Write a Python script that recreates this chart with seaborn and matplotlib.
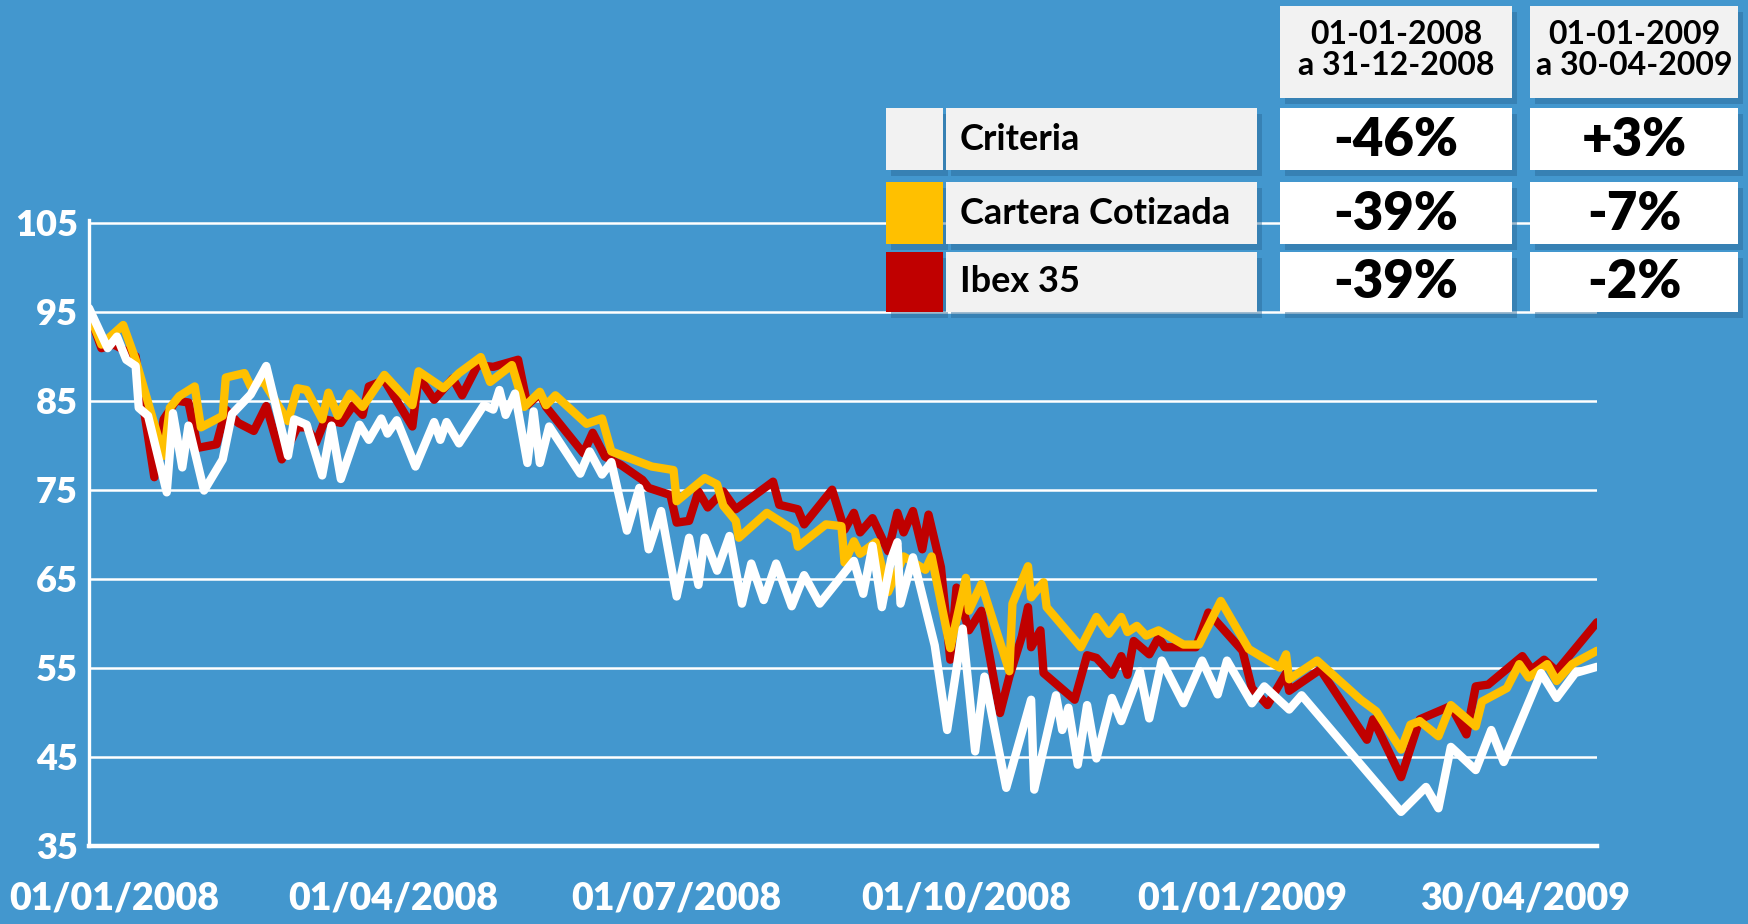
import matplotlib
matplotlib.use("Agg")
import matplotlib.pyplot as plt
from matplotlib.patches import Rectangle
import pandas as pd
import seaborn as sns

# ---------------- data ----------------
series_names = ["Criteria", "Cartera Cotizada", "Ibex 35"]
series_colors = {"Criteria": "#FFFFFF", "Cartera Cotizada": "#FFC000", "Ibex 35": "#C00000"}

# days since 01/01/2008
criteria_days = [0, 6, 9, 12, 15, 16, 19, 25, 27, 30, 32, 37, 43, 46, 52, 57, 64, 66, 70, 75, 78, 81,
                 87, 90, 94, 96, 99, 105, 111, 113, 115, 119, 127, 130, 132, 134, 137, 141, 143, 145,
                 148, 158, 161, 165, 168, 173, 177, 180, 184, 189, 193, 196, 198, 202, 206, 210, 213,
                 217, 221, 226, 230, 235, 246, 249, 252, 255, 258, 260, 261, 265, 272, 276, 281, 285,
                 288, 295, 303, 304, 311, 313, 315, 318, 321, 324, 329, 332, 338, 341, 345, 352, 358,
                 363, 366, 374, 378, 386, 390, 422, 430, 434, 438, 446, 451, 455, 467, 472, 478, 485]
criteria_values = [95.4, 90.9, 92.2, 89.6, 88.9, 84.2, 83.3, 74.7, 83.6, 77.5, 82.2, 74.9, 78.4, 83.5,
                   85.7, 88.9, 78.8, 82.9, 82.3, 76.6, 82.2, 76.2, 82.3, 80.6, 83.0, 81.3, 82.8, 77.6,
                   82.6, 80.6, 82.6, 80.2, 84.5, 84.0, 86.2, 83.4, 85.8, 78.0, 83.8, 78.0, 82.1, 76.8,
                   79.3, 76.7, 78.1, 70.4, 75.2, 68.3, 72.6, 63.0, 69.6, 64.3, 69.6, 65.9, 69.8, 62.2,
                   66.7, 62.6, 66.7, 61.9, 65.4, 62.2, 67.0, 63.3, 68.7, 61.8, 67.2, 69.1, 62.2, 67.4,
                   57.5, 48.0, 59.4, 45.6, 54.0, 41.5, 51.4, 41.3, 51.9, 48.0, 50.5, 44.1, 50.8, 44.8,
                   51.6, 49.0, 54.6, 49.3, 55.8, 51.0, 55.8, 52.0, 55.8, 51.0, 52.9, 50.3, 51.9, 38.8,
                   41.6, 39.2, 46.1, 43.5, 48.0, 44.4, 54.4, 51.6, 54.4, 55.1]

cartera_days = [0, 4, 11, 15, 24, 26, 29, 34, 36, 43, 44, 50, 52, 56, 64, 67, 70, 75, 77, 80, 84, 88,
                95, 104, 106, 114, 119, 126, 129, 136, 140, 145, 147, 150, 160, 165, 168, 181, 188,
                189, 198, 202, 204, 208, 209, 218, 227, 228, 237, 242, 243, 246, 248, 253, 257, 262,
                269, 271, 277, 282, 283, 287, 296, 297, 302, 303, 307, 308, 319, 324, 328, 332, 334,
                337, 340, 344, 352, 357, 364, 373, 383, 385, 386, 395, 409, 414, 422, 425, 428, 434,
                438, 446, 448, 456, 460, 463, 469, 472, 477, 485]
cartera_values = [94.8, 91.3, 93.5, 89.6, 78.8, 84.2, 85.5, 86.6, 82.0, 83.3, 87.6, 88.1, 86.6, 87.2,
                  82.7, 86.4, 86.2, 82.9, 85.9, 83.3, 85.8, 84.3, 87.9, 84.5, 88.3, 86.4, 88.1, 89.9,
                  87.1, 89.0, 84.3, 86.0, 84.5, 85.6, 82.4, 83.0, 79.3, 77.6, 77.2, 73.7, 76.3, 75.6,
                  73.2, 71.5, 69.6, 72.4, 70.4, 68.6, 71.1, 70.9, 66.8, 69.2, 67.8, 69.1, 63.5, 67.5,
                  66.0, 67.5, 57.2, 65.1, 61.4, 64.4, 54.6, 62.2, 66.4, 62.9, 64.6, 61.8, 57.3, 60.7,
                  58.8, 60.7, 59.0, 59.7, 58.6, 59.2, 57.6, 57.6, 62.5, 57.1, 55.0, 56.5, 53.7, 55.8,
                  51.4, 50.1, 45.8, 48.6, 49.0, 47.3, 50.8, 48.4, 51.2, 52.7, 55.4, 53.9, 55.4, 53.5,
                  55.4, 56.9]

ibex_days = [0, 4, 8, 15, 21, 24, 28, 32, 35, 41, 44, 48, 53, 57, 62, 67, 70, 73, 76, 81, 85, 88, 90,
             95, 104, 106, 111, 117, 120, 125, 130, 138, 141, 145, 147, 159, 162, 166, 171, 178, 180,
             187, 189, 193, 196, 199, 204, 208, 220, 222, 228, 230, 239, 243, 246, 248, 252, 257,
             260, 262, 265, 268, 270, 274, 277, 279, 283, 287, 293, 296, 300, 302, 303, 306, 307,
             317, 321, 324, 329, 332, 334, 336, 341, 344, 346, 356, 360, 371, 374, 379, 385, 386,
             396, 411, 413, 422, 428, 438, 443, 446, 450, 461, 464, 468, 472, 485]
ibex_values = [94.8, 90.9, 91.3, 90.0, 76.4, 82.9, 85.0, 84.8, 79.7, 80.1, 84.0, 82.5, 81.6, 84.4,
               78.4, 82.0, 82.0, 80.3, 82.9, 82.5, 84.5, 83.4, 86.6, 87.3, 82.1, 87.7, 85.1, 87.5,
               85.6, 89.0, 88.8, 89.6, 84.5, 85.8, 84.3, 79.1, 81.4, 78.7, 77.8, 76.1, 75.2, 74.4,
               71.3, 71.5, 74.8, 73.0, 74.8, 72.8, 75.9, 73.3, 72.8, 71.1, 75.0, 70.5, 72.4, 70.2,
               71.8, 68.1, 72.4, 70.2, 72.6, 68.3, 72.2, 66.3, 55.9, 64.0, 59.2, 61.4, 49.9, 54.0,
               58.5, 61.8, 57.3, 59.2, 54.4, 51.4, 56.4, 56.1, 54.2, 56.3, 54.2, 58.0, 56.5, 58.4,
               57.3, 57.3, 61.2, 56.9, 52.7, 50.8, 54.4, 52.4, 54.8, 46.9, 49.2, 42.7, 49.2, 50.7,
               47.5, 52.9, 53.1, 56.3, 54.8, 55.9, 54.6, 60.1]

x_tick_days = [8, 98, 189, 282, 371, 462]
x_tick_labels = ["01/01/2008", "01/04/2008", "01/07/2008", "01/10/2008", "01/01/2009", "30/04/2009"]
y_ticks = [35, 45, 55, 65, 75, 85, 95, 105]

period_labels = ["01-01-2008\na 31-12-2008", "01-01-2009\na 30-04-2009"]
change_2008 = ["-46%", "-39%", "-39%"]
change_2009 = ["+3%", "-7%", "-2%"]
swatch_colors = ["#F2F2F2", "#FFC000", "#C00000"]

# ---------------- style ----------------
BG = "#4397CE"
sns.set_style("white")
plt.rcParams["font.family"] = ["Lato", "DejaVu Sans"]
plt.rcParams["font.weight"] = "bold"

W, H = 1748, 924
fig = plt.figure(figsize=(W / 100, H / 100), dpi=100, facecolor=BG)
ax = fig.add_axes([89 / W, 1 - 845.7 / H, (1597 - 89) / W, (845.7 - 220) / H])
ax.set_facecolor(BG)

frames = []
for name, d, v in [("Criteria", criteria_days, criteria_values),
                   ("Cartera Cotizada", cartera_days, cartera_values),
                   ("Ibex 35", ibex_days, ibex_values)]:
    frames.append(pd.DataFrame({"day": d, "value": v, "serie": name}))
df = pd.concat(frames, ignore_index=True)

sns.lineplot(data=df, x="day", y="value", hue="serie",
             hue_order=["Ibex 35", "Cartera Cotizada", "Criteria"],
             palette=series_colors, linewidth=6.0, estimator=None, sort=False,
             legend=False, ax=ax)

ax.set_xlim(0, 485)
ax.set_ylim(35, 105.3)
ax.set_xlabel("")
ax.set_ylabel("")
ax.set_axisbelow(True)
ax.yaxis.grid(True, color="white", linewidth=1.8)
ax.xaxis.grid(False)
for s in ["top", "right"]:
    ax.spines[s].set_visible(False)
ax.spines["left"].set_color("white")
ax.spines["left"].set_linewidth(2.4)
ax.spines["bottom"].set_color("white")
ax.spines["bottom"].set_linewidth(3.2)

ax.set_yticks(y_ticks)
ax.set_yticklabels([str(t) for t in y_ticks], fontsize=26, fontweight="heavy", color="white")
ax.set_xticks(x_tick_days)
ax.set_xticklabels(x_tick_labels, fontsize=27, fontweight="heavy", color="white")
ax.tick_params(axis="y", length=0, pad=8)
ax.tick_params(axis="x", length=0, pad=26)


# ---------------- table ----------------
def box(x0, y0, x1, y1, color, shadow=True):
    if shadow:
        fig.add_artist(Rectangle(((x0 + 5) / W, 1 - (y1 + 6) / H), (x1 - x0) / W, (y1 - y0) / H,
                                 transform=fig.transFigure, facecolor="#2A6896", alpha=0.45,
                                 edgecolor="none"))
    fig.add_artist(Rectangle((x0 / W, 1 - y1 / H), (x1 - x0) / W, (y1 - y0) / H,
                             transform=fig.transFigure, facecolor=color, edgecolor="none"))


def text(x, y, s, weight="bold", **kw):
    fig.text(x / W, 1 - y / H, s, color="black", fontweight=weight, **kw)


cols = [(1280, 1512), (1530, 1738)]
rows = [(108, 170), (182, 244), (252, 312)]

for (c0, c1), lab in zip(cols, period_labels):
    box(c0, 6, c1, 98, "#F2F2F2")
    text((c0 + c1) / 2, 50, lab, fontsize=23, ha="center", va="center", linespacing=1.08)

for (r0, r1), name, sw, v1, v2 in zip(rows, series_names, swatch_colors, change_2008, change_2009):
    box(886, r0, 943, r1, sw)
    box(946, r0, 1257, r1, "#F2F2F2")
    text(960, (r0 + r1) / 2, name, fontsize=26, ha="left", va="center")
    box(cols[0][0], r0, cols[0][1], r1, "#FFFFFF")
    box(cols[1][0], r0, cols[1][1], r1, "#FFFFFF")
    text(sum(cols[0]) / 2, (r0 + r1) / 2 + 1, v1, weight="heavy", fontsize=38, ha="center", va="center")
    text(sum(cols[1]) / 2, (r0 + r1) / 2 + 1, v2, weight="heavy", fontsize=38, ha="center", va="center")

fig.savefig("out.png", dpi=100, facecolor=BG)
